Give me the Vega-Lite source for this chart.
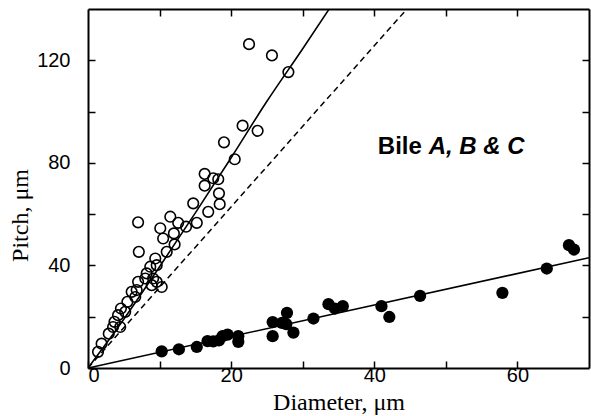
{
  "$schema": "https://vega.github.io/schema/vega-lite/v6.json",
  "width": 501,
  "height": 359,
  "autosize": {"type": "none"},
  "padding": {"left": 88, "top": 9, "right": 2, "bottom": 48},
  "background": "white",
  "config": {
    "view": {"stroke": null},
    "axis": {
      "domainColor": "black",
      "domainWidth": 2,
      "tickColor": "black",
      "tickWidth": 1.5,
      "tickSize": -7,
      "grid": false,
      "labelFont": "Liberation Sans",
      "labelFontSize": 20,
      "labelColor": "black",
      "titleFont": "Liberation Serif",
      "titleFontSize": 24,
      "titleFontWeight": "normal",
      "titleColor": "black"
    }
  },
  "datasets": {
    "open": [
      {"d": 1.4, "p": 6.3}, {"d": 1.9, "p": 9.5}, {"d": 2.9, "p": 13.4}, {"d": 3.5, "p": 16.0},
      {"d": 4.5, "p": 16.0}, {"d": 3.7, "p": 18.0}, {"d": 4.2, "p": 20.6}, {"d": 5.2, "p": 21.9},
      {"d": 4.6, "p": 23.2}, {"d": 5.5, "p": 25.8}, {"d": 6.6, "p": 27.7}, {"d": 6.1, "p": 29.7},
      {"d": 6.8, "p": 30.4}, {"d": 7.0, "p": 33.6}, {"d": 8.9, "p": 32.3}, {"d": 10.3, "p": 31.6},
      {"d": 9.6, "p": 33.6}, {"d": 8.0, "p": 34.9}, {"d": 9.1, "p": 34.9}, {"d": 8.2, "p": 36.9},
      {"d": 8.7, "p": 39.5}, {"d": 9.6, "p": 40.1}, {"d": 9.4, "p": 42.7}, {"d": 7.1, "p": 45.3},
      {"d": 11.0, "p": 45.3}, {"d": 12.1, "p": 48.2}, {"d": 10.5, "p": 50.5}, {"d": 12.0, "p": 52.5},
      {"d": 10.1, "p": 54.5}, {"d": 13.7, "p": 55.1}, {"d": 12.6, "p": 56.6}, {"d": 15.2, "p": 56.6},
      {"d": 7.0, "p": 56.8}, {"d": 11.5, "p": 59.0}, {"d": 16.8, "p": 60.9}, {"d": 18.4, "p": 63.9},
      {"d": 14.7, "p": 64.2}, {"d": 18.3, "p": 68.1}, {"d": 16.3, "p": 71.1}, {"d": 18.2, "p": 73.6},
      {"d": 17.5, "p": 74.0}, {"d": 16.3, "p": 75.7}, {"d": 20.5, "p": 81.4}, {"d": 19.0, "p": 88.0},
      {"d": 23.7, "p": 92.5}, {"d": 21.6, "p": 94.5}, {"d": 28.0, "p": 115.4}, {"d": 25.7, "p": 121.9},
      {"d": 22.5, "p": 126.3}
    ],
    "filled": [
      {"d": 10.3, "p": 6.5}, {"d": 12.7, "p": 7.3}, {"d": 15.2, "p": 8.2}, {"d": 16.7, "p": 10.5},
      {"d": 17.5, "p": 10.4}, {"d": 18.3, "p": 10.8}, {"d": 18.8, "p": 12.4}, {"d": 19.5, "p": 13.0},
      {"d": 21.0, "p": 12.4}, {"d": 21.0, "p": 10.2}, {"d": 25.8, "p": 17.9}, {"d": 25.8, "p": 12.4},
      {"d": 27.1, "p": 17.6}, {"d": 27.8, "p": 21.5}, {"d": 27.7, "p": 17.1}, {"d": 28.7, "p": 13.8},
      {"d": 31.5, "p": 19.3}, {"d": 33.6, "p": 24.9}, {"d": 34.5, "p": 23.2}, {"d": 35.6, "p": 24.1},
      {"d": 41.0, "p": 24.1}, {"d": 42.1, "p": 19.9}, {"d": 46.4, "p": 28.1}, {"d": 57.9, "p": 29.3},
      {"d": 64.1, "p": 38.8}, {"d": 67.2, "p": 47.9}, {"d": 67.9, "p": 46.2}
    ],
    "fitOpen": [
      {"d": 0, "p": 0}, {"d": 5, "p": 19}, {"d": 10, "p": 39.5}, {"d": 15, "p": 60.5},
      {"d": 20, "p": 82}, {"d": 25, "p": 104}, {"d": 30, "p": 124.5}, {"d": 33.7, "p": 140}
    ],
    "fitFilled": [{"d": 0, "p": 0}, {"d": 70, "p": 43}],
    "piLine": [{"d": 0, "p": 0}, {"d": 44.56, "p": 140}],
    "labelA": [{"d": 40.5, "p": 86.2, "t": "Bile"}],
    "labelB": [{"d": 47.6, "p": 86.2, "t": "A, B & C"}]
  },
  "layer": [
    {
      "data": {"name": "piLine"},
      "mark": {"type": "line", "color": "black", "strokeWidth": 1.5, "strokeDash": [6, 4], "clip": true},
      "encoding": {
        "x": {"field": "d", "type": "quantitative", "scale": {"domain": [0, 70], "nice": false, "zero": true}, "axis": null},
        "y": {"field": "p", "type": "quantitative", "scale": {"domain": [0, 140], "nice": false}, "axis": null}
      }
    },
    {
      "data": {"name": "fitOpen"},
      "mark": {"type": "line", "color": "black", "strokeWidth": 1.6, "interpolate": "monotone", "clip": true},
      "encoding": {
        "x": {"field": "d", "type": "quantitative", "axis": null},
        "y": {"field": "p", "type": "quantitative", "axis": null}
      }
    },
    {
      "data": {"name": "fitFilled"},
      "mark": {"type": "line", "color": "black", "strokeWidth": 1.6, "clip": true},
      "encoding": {
        "x": {"field": "d", "type": "quantitative", "axis": null},
        "y": {"field": "p", "type": "quantitative", "axis": null}
      }
    },
    {
      "data": {"name": "open"},
      "mark": {"type": "point", "shape": "circle", "filled": false, "stroke": "black", "strokeWidth": 1.6, "size": 112, "opacity": 1},
      "encoding": {
        "x": {"field": "d", "type": "quantitative",
          "axis": {"orient": "bottom", "values": [0, 10, 20, 30, 40, 50, 60], "labelExpr": "datum.value % 20 == 0 ? datum.label : ''",
            "labelPadding": 4, "title": "Diameter, μm", "titleY": 41, "titleBaseline": "alphabetic"}},
        "y": {"field": "p", "type": "quantitative",
          "axis": {"orient": "left", "values": [0, 20, 40, 60, 80, 100, 120], "labelExpr": "datum.value % 40 == 0 ? datum.label : ''",
            "labelPadding": 25, "title": "Pitch, μm", "titleX": -68, "titleY": 206, "titleBaseline": "middle", "titleAlign": "center", "titleAngle": -90}}
      }
    },
    {
      "data": {"name": "filled"},
      "mark": {"type": "point", "shape": "circle", "filled": true, "color": "black", "size": 150, "opacity": 1},
      "encoding": {
        "x": {"field": "d", "type": "quantitative",
          "axis": {"orient": "top", "values": [10, 20, 30, 40, 50, 60], "labels": false, "title": null}},
        "y": {"field": "p", "type": "quantitative",
          "axis": {"orient": "right", "values": [20, 40, 60, 80, 100, 120], "labels": false, "title": null}}
      }
    },
    {
      "data": {"name": "labelA"},
      "mark": {"type": "text", "font": "Liberation Sans", "fontSize": 24, "fontWeight": "bold", "align": "left", "baseline": "middle", "color": "black"},
      "encoding": {
        "x": {"field": "d", "type": "quantitative", "axis": null},
        "y": {"field": "p", "type": "quantitative", "axis": null},
        "text": {"field": "t"}
      }
    },
    {
      "data": {"name": "labelB"},
      "mark": {"type": "text", "font": "Liberation Sans", "fontSize": 24, "fontWeight": "bold", "fontStyle": "italic", "align": "left", "baseline": "middle", "color": "black"},
      "encoding": {
        "x": {"field": "d", "type": "quantitative", "axis": null},
        "y": {"field": "p", "type": "quantitative", "axis": null},
        "text": {"field": "t"}
      }
    }
  ],
  "resolve": {"axis": {"x": "independent", "y": "independent"}}
}
